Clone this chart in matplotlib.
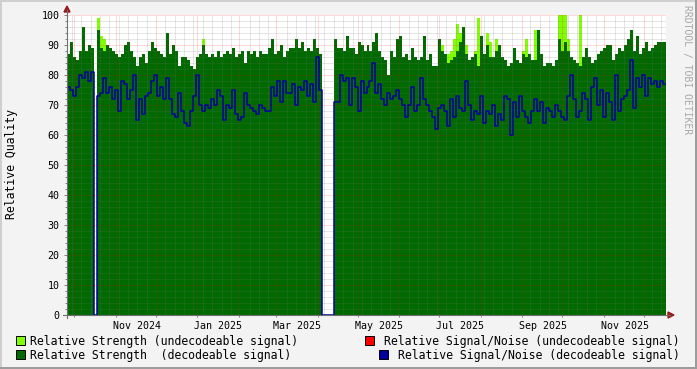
import numpy as np
import matplotlib
matplotlib.use("Agg")
import matplotlib.pyplot as plt
import matplotlib.dates as mdates
from matplotlib.patches import Rectangle, Polygon
from matplotlib.lines import Line2D

# ---------------- data (one value per ~2.24 days) ----------------
strength_decodeable = [
    87, 91, 86, 85, 88, 96, 88, 90, 89, 0, 95, 89, 88, 90, 89, 88, 87, 86, 87, 90, 91, 88, 86, 83, 86, 87, 84, 88, 91, 89, 88, 87, 86,
    94, 87, 90, 88, 83, 86, 86, 85, 83, 82, 86, 87, 90, 87, 86, 87, 86, 88, 86, 87, 88, 87, 89, 86, 87, 88, 84, 88, 87, 88, 86, 88, 87,
    87, 89, 92, 87, 88, 90, 86, 88, 89, 89, 92, 89, 91, 88, 89, 88, 92, 89, 87, np.nan, np.nan, np.nan, np.nan, 92, 89, 89, 88, 93, 89, 89, 87, 91, 90, 88,
    90, 88, 91, 94, 88, 86, 85, 80, 88, 86, 92, 93, 86, 87, 85, 89, 86, 85, 86, 93, 85, 87, 83, 83, 92, 88, 87, 84, 85, 86, 88, 91, 96,
    87, 85, 86, 87, 83, 93, 87, 90, 86, 86, 88, 90, 86, 85, 83, 84, 89, 85, 84, 87, 86, 87, 85, 85, 95, 87, 83, 84, 84, 83, 85, 92, 88,
    91, 88, 86, 85, 84, 83, 86, 89, 86, 84, 85, 87, 88, 89, 90, 90, 85, 87, 89, 88, 90, 92, 95, 88, 93, 87, 89, 91, 88, 89, 90, 91, 91, 91,
]
strength_undecodeable = [
    0, 0, 0, 0, 0, 0, 0, 0, 0, 0, 99, 93, 92, 0, 0, 0, 0, 0, 0, 0, 0, 0, 0, 0, 0, 0, 0, 0, 0, 0, 0, 0, 0,
    0, 0, 0, 0, 0, 0, 0, 0, 0, 0, 0, 0, 92, 0, 0, 0, 0, 0, 0, 0, 0, 0, 0, 0, 0, 0, 0, 0, 0, 0, 0, 0, 0,
    0, 0, 0, 0, 0, 0, 0, 0, 0, 0, 0, 0, 0, 0, 0, 0, 0, 0, 0, 0, 0, 0, 0, 0, 0, 0, 0, 0, 0, 0, 0, 0, 0, 0,
    0, 0, 0, 0, 0, 0, 0, 0, 0, 0, 0, 0, 0, 0, 0, 0, 0, 0, 0, 0, 0, 0, 0, 0, 0, 90, 0, 87, 88, 92, 97, 94, 0,
    90, 0, 0, 88, 99, 0, 0, 94, 91, 0, 92, 0, 0, 0, 0, 0, 0, 0, 0, 88, 92, 0, 0, 95, 0, 0, 0, 0, 0, 0, 0, 100, 100,
    100, 92, 0, 0, 0, 100, 0, 0, 0, 0, 0, 0, 0, 0, 0, 0, 0, 0, 0, 0, 0, 0, 0, 0, 0, 0, 0, 0, 0, 0, 0, 0, 0, 0,
]
snr_decodeable = [
    76, 75, 73, 76, 80, 79, 81, 78, 81, 0, 73, 74, 79, 74, 76, 72, 75, 68, 78, 77, 72, 75, 80, 65, 72, 67, 73, 74, 78, 80, 73, 76, 72,
    79, 72, 67, 66, 74, 68, 64, 63, 68, 73, 80, 70, 68, 70, 69, 72, 70, 75, 73, 65, 70, 69, 75, 67, 65, 66, 74, 70, 69, 68, 67, 70, 69,
    68, 68, 76, 73, 78, 71, 78, 74, 74, 77, 70, 76, 75, 78, 73, 77, 71, 86, 75, 0, 0, 0, 0, 71, 71, 80, 78, 79, 70, 79, 76, 68, 78, 74,
    76, 78, 84, 74, 77, 72, 70, 74, 72, 73, 75, 72, 70, 66, 70, 76, 68, 70, 79, 72, 70, 68, 66, 62, 69, 70, 68, 63, 72, 66, 73, 69, 68,
    78, 70, 65, 68, 67, 73, 64, 68, 67, 70, 63, 67, 65, 73, 72, 60, 71, 66, 73, 68, 66, 64, 68, 72, 68, 71, 64, 69, 68, 66, 70, 68, 66,
    65, 73, 80, 72, 66, 68, 74, 72, 65, 76, 79, 70, 75, 66, 74, 71, 65, 80, 68, 72, 73, 75, 85, 69, 79, 76, 80, 73, 79, 77, 78, 76, 78, 77,
]
snr_undecodeable = [0] * len(snr_decodeable)

month_labels = ["Nov 2024", "Jan 2025", "Mar 2025", "May 2025", "Jul 2025", "Sep 2025", "Nov 2025"]
month_label_dates = ["2024-11-16T12:00", "2025-01-16T12:00", "2025-03-16T12:00", "2025-05-16T12:00",
                     "2025-07-16T12:00", "2025-09-16T12:00", "2025-11-16T12:00"]
legend_labels = ["Relative Strength (undecodeable signal)", "Relative Signal/Noise (undecodeable signal)",
                 "Relative Strength  (decodeable signal)", "Relative Signal/Noise (decodeable signal)"]

start_date = np.datetime64("2024-09-25T10:00")
span_days = 448.0

# ---------------- figure ----------------
W, H = 697, 369
fig = plt.figure(figsize=(W / 100, H / 100), dpi=100, facecolor="#f3f3f3")
MONO = "DejaVu Sans Mono"

def fx(px):
    return px / W

def fy(py):
    return 1 - py / H

ax = fig.add_axes([fx(67), fy(315), (666 - 67) / W, 300 / H])
ax.set_facecolor("white")
for s in ax.spines.values():
    s.set_visible(False)

n = len(strength_decodeable)
x0 = mdates.date2num(start_date)
step = span_days / n
xe = x0 + np.arange(n + 1) * step

def ext(v):
    v = np.nan_to_num(np.asarray(v, dtype=float))
    return np.append(v, v[-1])

C_LIGHT = "#80ff00"
C_DARK = "#006a00"
C_RED = "#ff0000"
C_BLUE = "#00009c"

ax.fill_between(xe, 0, ext(strength_undecodeable), step="post", color=C_LIGHT, lw=0, zorder=1)
ax.fill_between(xe, 0, ext(strength_decodeable), step="post", color=C_DARK, lw=0, zorder=2)
ax.step(xe, ext(snr_undecodeable), where="post", color=C_RED, lw=0, zorder=4)
ax.step(xe, ext(snr_decodeable), where="post", color=C_BLUE, lw=1.1, zorder=4)

ax.set_xlim(xe[0], xe[-1])
ax.set_ylim(0, 100)

# grid
dash = (0, (1, 1))
for v in range(2, 101, 2):
    if v % 10 == 0:
        ax.axhline(v, color=(1, 0, 0, 0.3), lw=0.72, ls=dash, zorder=3)
    else:
        ax.axhline(v, color=(0.45, 0.45, 0.45, 0.35), lw=0.72, ls=dash, zorder=3)

month_starts = []
d = np.datetime64("2024-10-01")
while mdates.date2num(d) < xe[-1]:
    month_starts.append(mdates.date2num(d))
    d = (d.astype("datetime64[M]") + 1).astype("datetime64[D]")
week = np.datetime64("2024-09-29")
while mdates.date2num(week) < xe[-1]:
    w = mdates.date2num(week)
    if w > xe[0] and all(abs(w - m) > 1.5 for m in month_starts):
        ax.axvline(w, color=(0.45, 0.45, 0.45, 0.35), lw=0.72, ls=dash, zorder=3)
    week = week + np.timedelta64(7, "D")
for m in month_starts:
    ax.axvline(m, color=(1, 0, 0, 0.3), lw=0.72, ls=dash, zorder=3)

# ticks
ax.set_yticks(range(0, 101, 10))
ax.set_yticks(range(0, 101, 2), minor=True)
ax.tick_params(axis="y", which="major", length=2.5, width=0.7, color="#808080", pad=3,
               labelsize=7.2, labelcolor="black")
ax.tick_params(axis="y", which="minor", length=1.5, width=0.7, color="#808080")
for lab in ax.get_yticklabels():
    lab.set_family(MONO)

ax.set_xticks([mdates.date2num(np.datetime64(s)) for s in month_label_dates])
ax.set_xticklabels(month_labels)
ax.set_xticks(month_starts, minor=True)
ax.tick_params(axis="x", which="major", length=0, pad=4, labelsize=7.2, labelcolor="black")
ax.tick_params(axis="x", which="minor", length=3, width=0.7, color="#808080", direction="inout")
for lab in ax.get_xticklabels():
    lab.set_family(MONO)

# axes lines and arrows
fig.add_artist(Line2D([fx(67), fx(67)], [fy(318), fy(10)], color="#707070", lw=0.8, transform=fig.transFigure))
fig.add_artist(Line2D([fx(63), fx(670)], [fy(315), fy(315)], color="#707070", lw=0.8, transform=fig.transFigure))
fig.add_artist(Polygon([[fx(64), fy(12)], [fx(70), fy(12)], [fx(67), fy(6)]], closed=True,
                       color="#9b1c1c", transform=fig.transFigure))
fig.add_artist(Polygon([[fx(668), fy(312)], [fx(668), fy(318)], [fx(674), fy(315)]], closed=True,
                       color="#9b1c1c", transform=fig.transFigure))

# y label and watermark
fig.text(fx(12), fy(164), "Relative Quality", rotation=90, va="center", ha="center",
         fontsize=8.3, family=MONO)
fig.text(fx(687), fy(70), "RRDTOOL / TOBI OETIKER", rotation=270, va="center", ha="center",
         fontsize=7.0, family=MONO, color="#a8a8a8")

# legend
def box(xp, yp, color):
    fig.add_artist(Rectangle((fx(xp), fy(yp + 9)), 9 / W, 9 / H, transform=fig.transFigure,
                             facecolor=color, edgecolor="black", lw=0.7))

box(16, 336, C_LIGHT)
fig.text(fx(30), fy(341), legend_labels[0], va="center", ha="left", fontsize=8.3, family=MONO)
box(365, 336, C_RED)
fig.text(fx(680), fy(341), legend_labels[1], va="center", ha="right", fontsize=8.3, family=MONO)
box(16, 350, C_DARK)
fig.text(fx(30), fy(355), legend_labels[2], va="center", ha="left", fontsize=8.3, family=MONO)
box(379, 350, C_BLUE)
fig.text(fx(680), fy(355), legend_labels[3], va="center", ha="right", fontsize=8.3, family=MONO)

# frame
fig.add_artist(Rectangle((0, 0), 1, 2 / H, transform=fig.transFigure, facecolor="#9c9c9c", lw=0))
fig.add_artist(Rectangle((1 - 2 / W, 0), 2 / W, 1, transform=fig.transFigure, facecolor="#9c9c9c", lw=0))
fig.add_artist(Rectangle((0, 1 - 2 / H), 1 - 2 / W, 2 / H, transform=fig.transFigure, facecolor="#cfcfcf", lw=0))
fig.add_artist(Rectangle((0, 2 / H), 2 / W, 1 - 2 / H, transform=fig.transFigure, facecolor="#cfcfcf", lw=0))

fig.savefig("out.png", dpi=100, facecolor=fig.get_facecolor())
